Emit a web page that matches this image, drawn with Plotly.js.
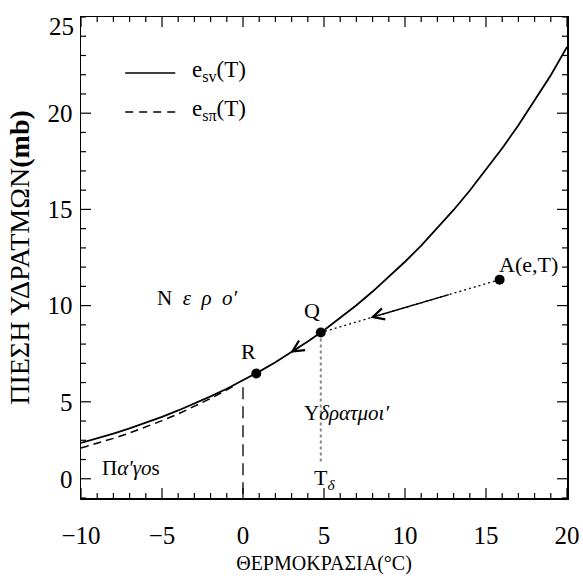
<!DOCTYPE html>
<html>
<head>
<meta charset="utf-8">
<script src="https://cdn.plot.ly/plotly-3.0.1.min.js"></script>
<style>html,body{margin:0;padding:0;background:#fff;}#chart{width:583px;height:578px;}</style>
</head>
<body>
<div id="chart"></div>
<script>
// Temperature (°C) and saturation vapour pressure over water (mb)
const tempWater = [-10,-9,-8,-7,-6,-5,-4,-3,-2,-1,0,1,2,3,4,5,6,7,8,9,10,11,12,13,14,15,16,17,18,19,20];
const esWater = [2.86,3.10,3.35,3.62,3.91,4.22,4.55,4.90,5.28,5.68,6.11,6.57,7.06,7.58,8.13,8.72,9.35,10.02,10.73,11.48,12.28,13.12,14.02,14.97,15.98,17.05,18.18,19.37,20.64,21.97,23.45];
// Saturation vapour pressure over ice (mb)
const tempIce = [-10,-9,-8,-7,-6,-5,-4,-3,-2,-1,-0.5];
const esIce = [2.60,2.84,3.10,3.38,3.68,4.02,4.37,4.76,5.17,5.62,5.86];
// Marked points A, Q, R
const pointNames = ['A','Q','R'];
const pointT = [15.84, 4.8, 0.82];
const pointE = [11.35, 8.6, 6.47];
// Dew point drop line and 0°C line
const dewLineT = [4.8, 4.8];
const dewLineE = [8.6, 1.75];
const freezeLineT = [0, 0];
const freezeLineE = [5.75, 0];
// Arrows: [tailT, tailE, headT, headE]
const arrowCooling = [12.8, 10.59, 7.86, 9.37];
const arrowCondense = [3.6, 7.91, 2.92, 7.55];
// Axis ranges and ticks
const xRange = [-10, 20];
const yRange = [0, 25];
const xTickVals = [-10,-5,0,5,10,15,20];
const yTickVals = [1,5,10,15,20];
const yTickText = ['0','5','10','15','20'];

const FONT = 'Liberation Serif, Times New Roman, serif';
const PLOT_W = 583 - 81 - 16;
const PLOT_H = 578 - 17 - 80;

const traces = [
  {x: tempWater, y: esWater, mode:'lines', line:{color:'black', width:1.8}, showlegend:false},
  {x: tempIce, y: esIce, mode:'lines', line:{color:'black', width:1.5, dash:'8px,5px'}, showlegend:false},
  {x: [pointT[0], pointT[1]], y: [pointE[0], pointE[1]], mode:'lines', line:{color:'black', width:1.3, dash:'2px,3px'}, showlegend:false},
  {x: dewLineT, y: dewLineE, mode:'lines', line:{color:'#888', width:2, dash:'3px,3px'}, showlegend:false},
  {x: freezeLineT, y: freezeLineE, mode:'lines', line:{color:'black', width:1.3, dash:'12px,7px'}, showlegend:false},
  {x: pointT, y: pointE, mode:'markers', marker:{color:'black', size:10}, showlegend:false}
];

function arrowAnn(a){
  return {x:a[2], y:a[3], ax:a[0], ay:a[1], xref:'x', yref:'y', axref:'x', ayref:'y',
          text:'', showarrow:true, arrowhead:5, arrowsize:1.6, arrowwidth:1.4, arrowcolor:'black'};
}
function label(x, y, text, size){
  return {x:x, y:y, xref:'x', yref:'y', text:text, showarrow:false,
          font:{family:FONT, size:size||22, color:'black'}};
}

// Tick marks on all four sides (major long, minor short), generated from the axis ranges
const tickShapes = [];
const tickLine = {color:'black', width:1.2};
for (let t = xRange[0]; t <= xRange[1]; t++) {
  const len = (xTickVals.indexOf(t) >= 0 ? 10 : 5) / PLOT_H;
  tickShapes.push({type:'line', xref:'x', yref:'paper', x0:t, x1:t, y0:0, y1:len, line:tickLine});
  tickShapes.push({type:'line', xref:'x', yref:'paper', x0:t, x1:t, y0:1, y1:1 - len, line:tickLine});
}
for (let v = yRange[0]; v <= yRange[1]; v++) {
  const len = (yTickVals.indexOf(v) >= 0 ? 10 : 5) / PLOT_W;
  tickShapes.push({type:'line', xref:'paper', yref:'y', x0:0, x1:len, y0:v, y1:v, line:tickLine});
  tickShapes.push({type:'line', xref:'paper', yref:'y', x0:1, x1:1 - len, y0:v, y1:v, line:tickLine});
}

const layout = {
  width:583, height:578,
  margin:{l:81, r:16, t:17, b:80},
  showlegend:false,
  xaxis:{
    range:xRange, tickvals:xTickVals, ticks:'',
    showline:true, linecolor:'black', linewidth:1.5, mirror:true,
    showgrid:false, zeroline:false,
    tickfont:{family:FONT, size:25, color:'black'}, ticklabelstandoff:14,
    title:{text:'ΘΕΡΜΟΚΡΑΣΙΑ(°C)', font:{family:FONT, size:20, color:'black'}, standoff:8}
  },
  yaxis:{
    range:yRange, tickvals:yTickVals, ticktext:yTickText, ticks:'',
    showline:true, linecolor:'black', linewidth:1.5, mirror:true,
    showgrid:false, zeroline:false,
    tickfont:{family:FONT, size:25, color:'black'}, ticklabelstandoff:2,
    title:{text:'ΠΙΕΣΗ ΥΔΡΑΤΜΩΝ<b>(mb)</b>', font:{family:FONT, size:28, color:'black'}, standoff:9}
  },
  shapes: tickShapes.concat([
    {type:'line', xref:'paper', yref:'paper', x0:0.091, x1:0.194, y0:0.8836, y1:0.8836, line:{color:'black', width:1.5}},
    {type:'line', xref:'paper', yref:'paper', x0:0.091, x1:0.194, y0:0.8025, y1:0.8025, line:{color:'black', width:1.5, dash:'8px,6px'}}
  ]),
  annotations:[
    {xref:'paper', yref:'y', x:0, y:24.5, xanchor:'right', xshift:-5, text:'25', showarrow:false, font:{family:FONT, size:25, color:'black'}},
    {xref:'paper', yref:'paper', x:0.224, y:0.921, xanchor:'left', text:'e<sub>sv</sub>(T)', showarrow:false, font:{family:FONT, size:23, color:'black'}},
    {xref:'paper', yref:'paper', x:0.224, y:0.840, xanchor:'left', text:'e<sub>sπ</sub>(T)', showarrow:false, font:{family:FONT, size:23, color:'black'}},
    arrowAnn(arrowCooling),
    arrowAnn(arrowCondense),
    label(-2.82, 10.4, 'Ν  <i>ε  ρ  ο\u2032</i>', 21),
    label(6.4, 4.42, 'Υ<i>δρατμοι\u2032</i>', 21),
    label(-6.9, 1.56, 'Π<i>α\u2032γο</i>s', 21),
    label(4.28, 9.72, pointNames[1], 22),
    label(0.34, 7.59, pointNames[2], 22),
    label(17.6, 12.16, pointNames[0] + '(e,T)', 22),
    label(5.03, 0.99, 'T<sub><i>δ</i></sub>', 22)
  ]
};

Plotly.newPlot('chart', traces, layout, {staticPlot:true});
</script>
</body>
</html>
